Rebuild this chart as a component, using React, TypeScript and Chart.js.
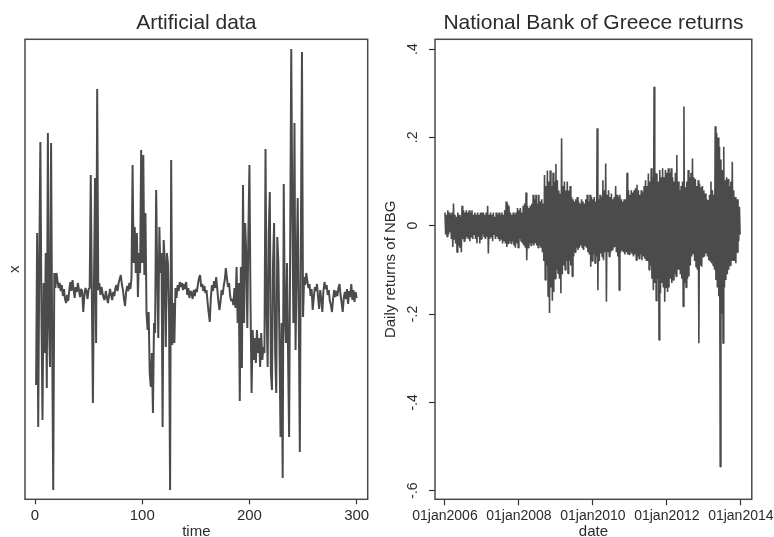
import { useEffect, useRef } from 'react';
import { Chart, registerables } from 'chart.js';

Chart.register(...registerables);

const FONT = '"Liberation Sans", Arial, Helvetica, sans-serif';
const INK = '#4b4b4b';
const TEXT = '#2b2b2b';

// ---- Artificial series, t = 1..300, kept in its calm and turbulent stretches ----
const burst1 = [-9.2, 6, -13.4, 3, 15.1, -2, -12.7, 1, -6, 4, -9.5, 16, -3, -7.4, 15, -4.5, -19.7, 2, 0.5];
const calm1 = [2.0, 1.2, 0.5, 1.0, 0.2, 0.8, -0.3, 0.4, -0.6, -1.0, -0.2, -0.8, 0.3, 1.1, 0.2, 1.3, 0.4, -0.5, 0.6, 0.1,
  1.0, 0.3, -0.4, 0.4, 0.2, -1.9, -0.3, 0.5, 0.2, -0.6, 0.4];
const burst2 = [0.5, 11.8, 0, -11, 1, 11.5, -5, 20.4];
const calm2 = [0.3, 1.0, -0.2, 0.6, 0.0, -0.5, -0.7, 0.2, -0.4, -1.0, -0.3, 0.4, -0.2, -0.7, 0.1, -0.3, 0.5, 0.8, 0.2, 1.0,
  1.4, 1.8, 0.9, 0.3, -0.6, -1.3, 0.1, 0.7, 0.2, 1.0, 0.4];
const burst3 = [1.5, 12.8, 3, 6.6, 2, 6, -0.4, 4, 2, 14.3, 3, 13.8, 1.8, 8, -2, -3.7, -1.9, -8, -9.4, -6,
  -12, -3, -4, 10.3, 2, -4.5, 6.6, 2, 4, -13.4, 5.3, 3.3, -5.4, 4, 3, -2, -19.7, 13.3, -5.2, -1, -5];
const calm3 = [0.5, -0.5, 0.8, 0.2, 1.1, 0.6, 1.0, 0.3, 0.9, 0.4, 1.1, -0.2, 0.5, -0.5, 0.2, 0.0, -0.6, 0.3, -0.3, 0.4,
  0.1, 0.9, 1.5, 1.8, 0.6, 0.9, 0.2, 0.7, 0.0, 0.3, -1.0, -2.0, -2.9, -0.5, 0.8, 0.2, 1.2, 0.5, 1.6, 0.4,
  -0.8, -1.7, -0.9, 0.3, -0.2, 0.7, 1.3, 2.5, 1.5, 0.6, 1.0, -0.3, -0.8, -0.6, -1.2];
const burst4 = [0.5, -1.5, 2.6, -3, 1, -10.8, 2.6, -7.5, 10.8, -3, 7, 4, -3.5, 6, 12.8, -1, -10, -3.7, -6.7, -4.5,
  -7, -3.7, -6, -4.5, -7.4, -4, -6.7, -5.4, -6, 14.4, -2, -7.4, 6, 10.1, -8, -9.7, 3, 7, -6, -10,
  5.6, 3, -5, -14.4, -3, -18.5, 10.9, -2, -5, 3, -6, -14.4, 5, 24.4, 8, -3, 17, -5.7, 2, 9.5,
  -2, -15.9, 6, 24.1, -2.4];
const calm4 = [1.6, 0.8, 2.0, 1.2, 0.5, 0.9, -0.3, 0.4, -1.7, -0.5, 0.6, 0.2, 0.9, -0.4, -1.6, 0.3, -0.6, -1.9, 0.2, 1.1,
  0.4, 0.8, -0.2, 0.3, -0.8, -1.2, -1.9, -0.6, 0.3, -0.4, 0.2, -0.3, 0.5, 0.9, -0.2, -1.0, -1.9, -0.5, 0.1, -0.6,
  0.4, -1.1, 0.2, -0.4, 0.9, -0.7, 0.3, -0.9, 0.1, -0.5];

const artificialX = [...burst1, ...calm1, ...burst2, ...calm2, ...burst3, ...calm3, ...burst4, ...calm4];
const timeTicks = [0, 100, 200, 300];

// ---- NBG weekly returns in percent, one array per calendar year ----
const nbg2006 = [3, -2, 2.5, -2.5, 3.5, -2, 3, -1.5, 2.5, -3, 3, -4.8, 5, -3, 2.5, -4, 2, -6, 3, -4.5, 2.5, -5, 2, -6,
  4.5, -3, 3.5, -3.5, 3, -3, 3.5, -2.5, 3, -3, 3.5, -3.5, 3, -2.5, 3.5, -3, 2.5, -2, 3, -3, 2.5, -4, 3, -2.5, 2.5, -4, 3, -3];
const nbg2007 = [3, -2, 3, -2.5, 2.5, -3, 3, -2.5, 4.5, -6.3, 2.5, -3, 3, -2.5, 2.5, -3.5, 3, -2, 2, -3, 3, -2.5, 2.5, -3,
  3, -3.5, 2.5, -3, 3, -4, 2.5, -3.5, 3.5, -4, 5.5, -4.8, 5, -4, 4.5, -3.5, 3, -4, 2.5, -3.5, 3, -4.5, 2.5, -5, 3, -4, 4, -5];
const nbg2008 = [3.5, -3, 4, -3.5, 3, -4, 4.5, -4.5, 5, -5, 7.5, -7.8, 4.5, -5, 4, -4, 4.5, -4.5, 5, -4, 7, -4.5, 6, -4,
  7, -4.5, 5, -5, 7, -4.5, 5.5, -5, 6, -6, 5, -8, 11.5, -12.3, 9, -9, 12.5, -16, 10, -19.8, 12.5, -14, 9, -17, 12, -15, 10, -12];
const nbg2009 = [14, -10, 10.3, -10.8, 8, -12, 7.3, -15.3, 19.8, -11, 9, -9, 10, -10, 8, -8, 10, -10.8, 8, -8, 9, -9,
  6.5, -11.5, 6, -7, 5.5, -6, 6, -5, 6.5, -5.5, 5.5, -5, 5, -4.5, 6, -5, 5.5, -5.5, 5, -4.5, 6, -5, 7, -6, 5.5, -6.5, 7, -9.3, 6.5, -8];
const nbg2010 = [6, -6.5, 6.5, -8.5, 5.5, -7, 22.1, -14.6, 6, -8, 7, -6.3, 6.5, -7, 10.3, -7.8, 8, -6, 14.1, -17.2, 7, -6,
  8, -7, 6.5, -6, 7.3, -5.5, 6, -5, 6.5, -4.8, 9, -6, 7, -7, 6.5, -14.6, 7, -6, 6, -5.5, 5.5, -6, 6, -6.5, 6, -6, 12, -6.5, 8, -6.5];
const nbg2011 = [7, -6, 8, -6.3, 7.5, -7, 8, -6.5, 8.5, -7.8, 9.3, -7, 8, -7.5, 7, -6.5, 8, -7.8, 7.5, -7, 9, -7.5,
  10.3, -7.8, 9, -8, 11.8, -10, 10, -9, 13, -12, 11, -14.6, 31.5, -13, 12, -17, 11.8, -12, 10, -25.9, 12.6, -15.3, 11, -13, 13, -14, 11, -17.2, 12.6, -14];
const nbg2012 = [12, -15, 13, -14, 12, -12, 13, -13, 11, -12.3, 10, -11, 12, -11.5, 16, -10, 10, -10, 8, -11, 9, -12,
  10, -18.3, 27, -13, 8.7, -14, 10, -12, 12.6, -11.5, 11, -9, 12, -7, 15.2, -6.3, 11, -8, 10.6, -9.3, 9, -10, 10.3, -26.6, 9.5, -9, 8.7, -9.3, 9, -7];
const nbg2013 = [8, -7, 7.3, -6.3, 6, -7, 5.8, -7.8, 7, -8, 10, -8.5, 8, -9, 7, -10, 22.5, -12.3, 21, -14, 20, -16,
  17.9, -54.6, 15, -20, 12.6, -26.6, 17.9, -14, 10.3, -12.3, 11, -11, 10.6, -10, 9, -9, 10, -8, 14.5, -7.8, 8, -8, 6.5, -8.5, 6, -6, 6, -3.5, 4.3, -2];

const nbgYears = [2006, 2007, 2008, 2009, 2010, 2011, 2012, 2013];
const nbgByYear = [nbg2006, nbg2007, nbg2008, nbg2009, nbg2010, nbg2011, nbg2012, nbg2013];

const dateTicks = [2006, 2008, 2010, 2012, 2014];
const dateTickLabels = ['01jan2006', '01jan2008', '01jan2010', '01jan2012', '01jan2014'];
const returnTicks = [-0.6, -0.4, -0.2, 0, 0.2, 0.4];
const returnTickLabels = ['-.6', '-.4', '-.2', '0', '.2', '.4'];

// Box drawn around the plot region
const framePlugin = {
  id: 'plotFrame',
  beforeDatasetsDraw(chart: any) {
    const { ctx, chartArea: a } = chart;
    ctx.save();
    ctx.strokeStyle = '#4a4a4a';
    ctx.lineWidth = 1.5;
    ctx.strokeRect(a.left, a.top, a.right - a.left, a.bottom - a.top);
    ctx.restore();
  },
};

const tickGrid = (len: number) => ({
  display: true,
  drawOnChartArea: false,
  drawTicks: true,
  tickLength: len,
  tickColor: '#333',
  tickWidth: 1.2,
});

const titleFont = { family: FONT, size: 21, weight: 'normal' as const };
const axisFont = { family: FONT, size: 15 };

export default function App() {
  const leftRef = useRef<HTMLCanvasElement | null>(null);
  const rightRef = useRef<HTMLCanvasElement | null>(null);

  useEffect(() => {
    Chart.defaults.font.family = FONT;

    const artificialPoints = artificialX.map((v, i) => ({ x: i + 1, y: v }));
    const nbgPoints: { x: number; y: number }[] = [];
    nbgByYear.forEach((weeks, k) => {
      weeks.forEach((pct, w) => nbgPoints.push({ x: nbgYears[k] + w / weeks.length, y: pct / 100 }));
    });

    const left = new Chart(leftRef.current as HTMLCanvasElement, {
      type: 'line',
      data: {
        datasets: [{
          data: artificialPoints,
          borderColor: INK,
          borderWidth: 2,
          pointRadius: 0,
          tension: 0,
          borderJoinStyle: 'bevel',
          fill: false,
        }],
      },
      options: {
        animation: false,
        responsive: false,
        devicePixelRatio: 1,
        events: [],
        layout: { padding: { left: 0, right: 9.3, top: 0, bottom: 0 } },
        plugins: {
          legend: { display: false },
          tooltip: { enabled: false },
          title: {
            display: true,
            text: 'Artificial data',
            fullSize: false,
            color: TEXT,
            font: titleFont,
            padding: { top: 10.7, bottom: 3.4 },
          },
        },
        scales: {
          x: {
            type: 'linear',
            position: 'bottom',
            min: -9.33,
            max: 310.3,
            afterBuildTicks: (s: any) => { s.ticks = timeTicks.map((v) => ({ value: v })); },
            afterFit: (s: any) => { s.height = 45.7; },
            ticks: {
              font: { family: FONT, size: 15 },
              color: TEXT,
              padding: 2.2,
              minRotation: 0,
              maxRotation: 0,
              autoSkip: false,
              callback: (v: any) => String(v),
            },
            grid: tickGrid(5),
            border: { display: false },
            title: { display: true, text: 'time', color: TEXT, font: axisFont, padding: { top: 0, bottom: 3.8 } },
          },
          y: {
            type: 'linear',
            position: 'left',
            min: -20.63,
            max: 25.37,
            afterFit: (s: any) => { s.width = 25; },
            ticks: { display: false },
            grid: { display: false },
            border: { display: false },
            title: { display: true, text: 'x', color: TEXT, font: axisFont, padding: { top: 5.5, bottom: 0 } },
          },
        },
      },
      plugins: [framePlugin],
    } as any);

    const right = new Chart(rightRef.current as HTMLCanvasElement, {
      type: 'line',
      data: {
        datasets: [{
          data: nbgPoints,
          borderColor: INK,
          borderWidth: 1.6,
          pointRadius: 0,
          tension: 0,
          borderJoinStyle: 'bevel',
          fill: false,
        }],
      },
      options: {
        animation: false,
        responsive: false,
        devicePixelRatio: 1,
        events: [],
        layout: { padding: { left: 0, right: 24.3, top: 0, bottom: 0 } },
        plugins: {
          legend: { display: false },
          tooltip: { enabled: false },
          title: {
            display: true,
            text: 'National Bank of Greece returns',
            fullSize: false,
            color: TEXT,
            font: titleFont,
            padding: { top: 10.7, bottom: 3.4 },
          },
        },
        scales: {
          x: {
            type: 'linear',
            position: 'bottom',
            min: 2005.7305,
            max: 2014.2965,
            afterBuildTicks: (s: any) => { s.ticks = dateTicks.map((v) => ({ value: v })); },
            afterFit: (s: any) => { s.height = 45.7; },
            ticks: {
              font: { family: FONT, size: 14 },
              color: TEXT,
              padding: 2.6,
              minRotation: 0,
              maxRotation: 0,
              autoSkip: false,
              callback: (_v: any, i: number) => dateTickLabels[i],
            },
            grid: tickGrid(6),
            border: { display: false },
            title: { display: true, text: 'date', color: TEXT, font: axisFont, padding: { top: 0, bottom: 3.8 } },
          },
          y: {
            type: 'linear',
            position: 'left',
            min: -0.6197,
            max: 0.4222,
            afterBuildTicks: (s: any) => { s.ticks = returnTicks.map((v) => ({ value: v })); },
            afterFit: (s: any) => { s.width = 58; },
            ticks: {
              font: { family: FONT, size: 14 },
              color: TEXT,
              padding: 7.3,
              minRotation: 90,
              maxRotation: 90,
              crossAlign: 'center',
              autoSkip: false,
              callback: (_v: any, i: number) => returnTickLabels[i],
            },
            grid: tickGrid(6),
            border: { display: false },
            title: { display: true, text: 'Daily returns of NBG', color: TEXT, font: axisFont, padding: { top: 5, bottom: 0 } },
          },
        },
      },
      plugins: [framePlugin],
    } as any);

    return () => {
      left.destroy();
      right.destroy();
    };
  }, []);

  return (
    <div style={{ position: 'fixed', left: 0, top: 0, width: 774, height: 537, overflow: 'hidden', background: '#fff' }}>
      <canvas ref={leftRef} width={377} height={545} style={{ position: 'absolute', left: 0, top: 0 }} />
      <canvas ref={rightRef} width={400} height={545} style={{ position: 'absolute', left: 377, top: 0 }} />
    </div>
  );
}
